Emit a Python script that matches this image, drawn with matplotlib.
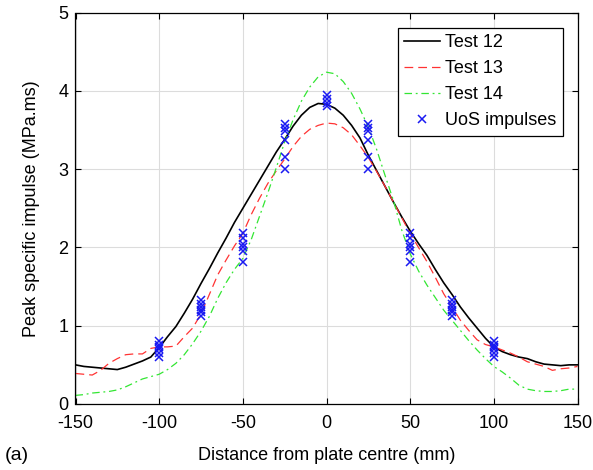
import matplotlib
matplotlib.use('Agg')
import matplotlib.pyplot as plt

plt.rcParams['font.family'] = ['Liberation Sans', 'DejaVu Sans']
plt.rcParams['font.size'] = 13
plt.rcParams['axes.unicode_minus'] = False

# distance from plate centre (mm), every 5 mm
x = list(range(-150, 155, 5))

test12 = [0.50, 0.48, 0.47, 0.46, 0.45, 0.44, 0.47, 0.51, 0.55, 0.60,
          0.72, 0.86, 0.99, 1.16, 1.34, 1.54, 1.73, 1.93, 2.12, 2.32,
          2.50, 2.68, 2.86, 3.04, 3.22, 3.38, 3.55, 3.69, 3.79, 3.84,
          3.83, 3.78, 3.69, 3.56, 3.40, 3.18, 2.98, 2.78, 2.58, 2.39,
          2.21, 2.05, 1.90, 1.72, 1.55, 1.40, 1.24, 1.10, 0.97, 0.84,
          0.73, 0.67, 0.63, 0.60, 0.58, 0.54, 0.51, 0.50, 0.49, 0.50, 0.50]

test13 = [0.39, 0.38, 0.37, 0.43, 0.52, 0.58, 0.63, 0.64, 0.64, 0.71,
          0.73, 0.73, 0.74, 0.86, 0.97, 1.15, 1.40, 1.65, 1.84, 2.02,
          2.18, 2.42, 2.63, 2.82, 2.98, 3.13, 3.29, 3.42, 3.51, 3.56,
          3.59, 3.58, 3.53, 3.44, 3.30, 3.15, 2.97, 2.78, 2.58, 2.38,
          2.18, 2.00, 1.82, 1.62, 1.41, 1.24, 1.07, 0.94, 0.82, 0.76,
          0.73, 0.69, 0.65, 0.60, 0.54, 0.51, 0.48, 0.43, 0.45, 0.46, 0.48]

test14 = [0.11, 0.12, 0.14, 0.15, 0.16, 0.18, 0.22, 0.27, 0.32, 0.35,
          0.38, 0.44, 0.52, 0.63, 0.77, 0.93, 1.12, 1.35, 1.55, 1.72,
          1.86, 2.10, 2.40, 2.70, 3.02, 3.35, 3.63, 3.87, 4.05, 4.18,
          4.24, 4.22, 4.12, 3.97, 3.77, 3.54, 3.25, 2.92, 2.60, 2.22,
          1.92, 1.70, 1.52, 1.36, 1.20, 1.07, 0.94, 0.81, 0.69, 0.58,
          0.48, 0.41, 0.33, 0.24, 0.19, 0.17, 0.16, 0.16, 0.17, 0.19, 0.19]

# UoS measured impulses at each gauge position
uos_pos = [-100, -75, -50, -25, 0, 25, 50, 75, 100]
uos_vals = [
    [0.60, 0.65, 0.70, 0.73, 0.76, 0.80],
    [1.12, 1.17, 1.20, 1.24, 1.28, 1.33],
    [1.82, 1.95, 2.00, 2.05, 2.12, 2.18],
    [3.00, 3.15, 3.37, 3.49, 3.53, 3.58],
    [3.81, 3.84, 3.90, 3.95],
    [3.00, 3.15, 3.37, 3.49, 3.53, 3.58],
    [1.82, 1.95, 2.00, 2.05, 2.12, 2.18],
    [1.12, 1.17, 1.20, 1.24, 1.28, 1.33],
    [0.60, 0.65, 0.70, 0.73, 0.76, 0.80],
]
uos_x = []
uos_y = []
for p, vals in zip(uos_pos, uos_vals):
    for v in vals:
        uos_x.append(p)
        uos_y.append(v)

fig = plt.figure(figsize=(5.93, 4.70), dpi=100)
ax = fig.add_axes([75.5/593, 1 - 404/470, 502/593, 391.3/470])

ax.plot(x, test12, color='black', lw=1.2, label='Test 12')
ax.plot(x, test13, color=(1, 0.2, 0.2), lw=0.9, dashes=(7, 4), label='Test 13')
ax.plot(x, test14, color=(0.2, 0.9, 0.2), lw=0.9, dashes=(6, 3, 1.5, 3), label='Test 14')
ax.plot(uos_x, uos_y, 'x', color=(0.1, 0.1, 0.95), ms=5.5, mew=1.1, label='UoS impulses')

ax.set_xlim(-150, 150)
ax.set_ylim(0, 5)
ax.set_xticks([-150, -100, -50, 0, 50, 100, 150])
ax.set_yticks([0, 1, 2, 3, 4, 5])
ax.grid(True, color='#dcdcdc', lw=0.8)
ax.set_axisbelow(True)
ax.tick_params(direction='in', top=True, right=True, length=4, width=0.8)
ax.tick_params(axis='x', pad=8)
ax.tick_params(axis='y', pad=5)
for s in ax.spines.values():
    s.set_linewidth(0.9)

ax.set_xlabel('Distance from plate centre (mm)', labelpad=11)
ax.set_ylabel('Peak specific impulse (MPa.ms)', labelpad=13)

leg = ax.legend(loc='upper right', bbox_to_anchor=(0.971, 0.961), borderaxespad=0,
                fancybox=False, framealpha=1, edgecolor='black',
                handlelength=2.0, handletextpad=0.3, labelspacing=0.5,
                borderpad=0.35, fontsize=13)
leg.get_frame().set_linewidth(0.9)

fig.text(5/593, 1 - 455/470, '(a)', fontsize=14, va='center', ha='left')

fig.savefig('out.png', dpi=100)
